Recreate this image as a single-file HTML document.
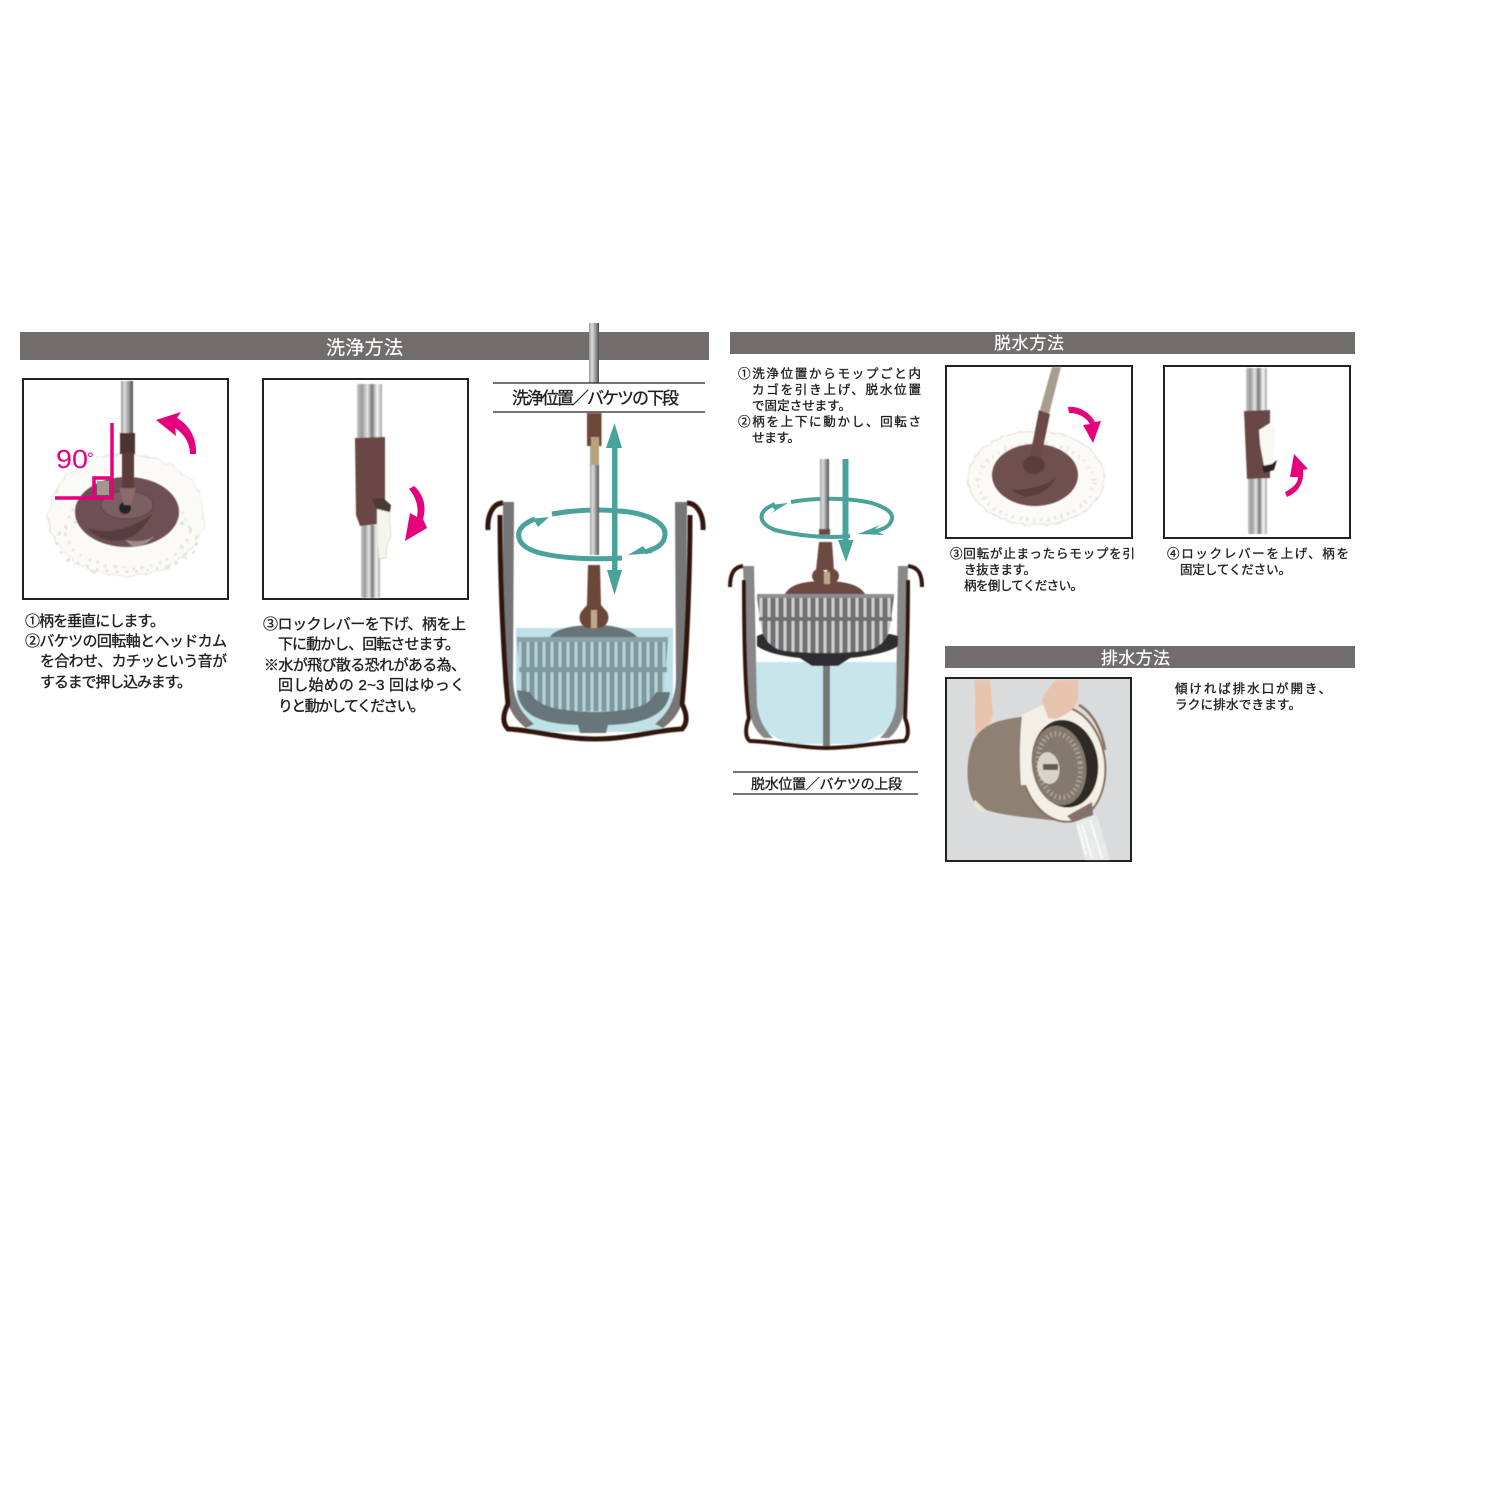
<!DOCTYPE html>
<html><head><meta charset="utf-8"><style>
html,body{margin:0;padding:0;background:#fff}
svg{display:block}
text{font-family:"Liberation Sans","Noto Sans CJK JP",sans-serif;fill:#1f1f1f;stroke:#1f1f1f;stroke-width:.35}
.w{fill:#fff;stroke:#fff;stroke-width:.2}
.p{fill:none;stroke:#e6007e}
.a{fill:#e6007e}
.t{fill:#4aa39b}
</style></head><body>
<svg width="1500" height="1500" viewBox="0 0 1500 1500" xmlns="http://www.w3.org/2000/svg">
<defs>
<pattern id="s1" x="516" y="0" width="8" height="10" patternUnits="userSpaceOnUse"><rect width="8" height="10" fill="#7d989e"/><rect x="2.500" width="3" height="10" fill="#b9d4d9"/></pattern>
<pattern id="s2" x="757" y="0" width="8" height="10" patternUnits="userSpaceOnUse"><rect width="8" height="10" fill="#6f7073"/><rect x="2.500" width="3" height="10" fill="#cfcfcf"/></pattern>
<filter id="b"><feGaussianBlur stdDeviation=".5"/></filter>
<filter id="fluff" x="-10%" y="-10%" width="120%" height="120%"><feTurbulence type="fractalNoise" baseFrequency=".09" numOctaves="2" seed="4"/><feDisplacementMap in="SourceGraphic" scale="9" xChannelSelector="R" yChannelSelector="G"/><feGaussianBlur stdDeviation=".5"/></filter>
<filter id="fluff2" x="-10%" y="-10%" width="120%" height="120%"><feTurbulence type="fractalNoise" baseFrequency=".14" numOctaves="2" seed="7"/><feDisplacementMap in="SourceGraphic" scale="5" xChannelSelector="R" yChannelSelector="G"/><feGaussianBlur stdDeviation=".4"/></filter>
<linearGradient id="pole" x1="0" x2="1" y1="0" y2="0"><stop offset="0" stop-color="#999"/><stop offset=".3" stop-color="#ddd"/><stop offset=".65" stop-color="#9a9a9a"/><stop offset="1" stop-color="#4c4c4c"/></linearGradient>
<linearGradient id="pole2" x1="0" x2="1" y1="0" y2="0"><stop offset="0" stop-color="#c8c8c8"/><stop offset=".2" stop-color="#999"/><stop offset=".42" stop-color="#e6e6e6"/><stop offset=".6" stop-color="#777"/><stop offset=".8" stop-color="#f6f6f6"/><stop offset="1" stop-color="#aaa"/></linearGradient>
</defs>

<!-- bars -->
<rect x="20" y="332" width="689" height="28" fill="#716d6d"/>
<rect x="730" y="332" width="625" height="22" fill="#716d6d"/>
<rect x="945" y="646" width="410" height="22" fill="#716d6d"/>
<text class="w" x="326" y="354" font-size="19" textLength="77">洗浄方法</text>
<text class="w" x="994" y="349" font-size="17" textLength="70">脱水方法</text>
<text class="w" x="1101" y="664" font-size="17" textLength="69">排水方法</text>

<!-- box 1 -->
<rect x="23" y="379" width="205" height="220" fill="#fff" stroke="#222" stroke-width="2"/>
<g filter="url(#fluff)">
<ellipse cx="126" cy="515" rx="78" ry="61" fill="#fbfaf7" stroke="#e4e2dc" stroke-width="1"/>
</g>
<g filter="url(#fluff2)">
<ellipse cx="127" cy="530" rx="62" ry="38" fill="none" stroke="#e6e4de" stroke-width="3" stroke-dasharray="3 6"/>
<ellipse cx="127" cy="542" rx="70" ry="30" fill="none" stroke="#e0ded8" stroke-width="2.500" stroke-dasharray="3 7"/>
</g>
<g filter="url(#b)">
<ellipse cx="127" cy="512" rx="52" ry="35" fill="#6e4f52"/>
<ellipse cx="127" cy="505" rx="26" ry="14" fill="#7c5f62" stroke="#5f4346" stroke-width="1"/>
<path d="M88 528Q118 538 152 514Q138 540 115 541Q97 540 88 528Z" fill="#583c3f"/>
<path d="M125 540Q145 544 155 535Q145 548 132 546Z" fill="#a08c8c"/>
<circle cx="125" cy="508" r="6" fill="#232323"/>
<rect x="121" y="381" width="12" height="53" fill="url(#pole)"/>
<rect x="120" y="433" width="15" height="21" fill="#4d3030"/>
<rect x="122" y="453" width="12" height="40" fill="#5b3a3a"/>
<path d="M119 488H136L131 505H124Z" fill="#8a6b6b"/>
</g>
<path class="p" stroke-width="3.500" d="M112 423V498H55M94 498V478H111"/>
<rect x="97" y="481" width="12" height="14" fill="#a2968d"/>
<text x="56" y="468" font-size="26" lengthAdjust="spacingAndGlyphs" style="fill:#e6007e;stroke:none" textLength="32">90</text>
<text x="87" y="464" font-size="17" style="fill:#e6007e;stroke:none">°</text>
<path class="a" d="M156 420L181 412L177 418C188 424 197 437 196 454H190C190 442 183 433 175 428L176 436Z"/>

<!-- box 2 -->
<rect x="263" y="379" width="205" height="220" fill="#fff" stroke="#222" stroke-width="2"/>
<g filter="url(#b)">
<rect x="357" y="384" width="25" height="54" fill="url(#pole2)"/>
<rect x="361" y="525" width="19" height="73" fill="url(#pole2)"/>
<path d="M355 438L385 437L385 512L379 524L360 526L356 515Z" fill="#6b4646"/>
<path d="M372 499L383 498L391 505L390 512L377 510Z" fill="#4a3a30"/>
<path d="M377 509L389 512L391 535L387 546L386 558L379 559L377 540Z" fill="#f6f4ee" stroke="#c4bfb3" stroke-width=".5"/>
</g>
<path class="a" d="M409 489L414 486C423 494 427 506 423 519L427 528L405 541L410 513L417 517C419 507 416 497 409 489Z"/>

<!-- left texts -->
<g font-size="15">
<text x="25" y="626" textLength="140">①柄を垂直にします。</text>
<text x="25" y="646" textLength="202">②バケツの回転軸とヘッドカム</text>
<text x="40" y="666" textLength="187">を合わせ、カチッという音が</text>
<text x="40" y="687" textLength="152">するまで押し込みます。</text>
<text x="263" y="629" textLength="203">③ロックレバーを下げ、柄を上</text>
<text x="278" y="649" textLength="182">下に動かし、回転させます。</text>
<text x="264" y="670" textLength="202">※水が飛び散る恐れがある為、</text>
<text x="278" y="690" textLength="187">回し始めの 2~3 回はゆっく</text>
<text x="278" y="711" textLength="147">りと動かしてください。</text>
</g>

<!-- center diagram -->
<g fill="none" stroke="#4aa39b" stroke-width="5">
<path d="M552 514C580 509 605 509 629 512C655 516 666 526 665 535C664 544 658 548 645 552"/>
</g>
<rect x="589" y="323" width="10" height="60" fill="url(#pole)"/>
<path d="M493 383H705M493 412H705" stroke="#222" stroke-width="1.300"/>
<text x="512" y="404" font-size="17" textLength="167">洗浄位置／バケツの下段</text>
<g filter="url(#b)">
<path d="M516 628H673V700L660 732H530L516 700Z" fill="#bfe1e7"/>
<path d="M503 502H514L513 680C514 700 520 712 534 724L526 728C510 716 505 700 503 680Z" fill="#767676"/>
<path d="M687 502H675L676 680C675 700 669 712 655 724L663 728C680 716 685 700 686 680Z" fill="#767676"/>
<path d="M550 637C555 628 575 625 596 625C615 625 632 630 637 637Z" fill="#687576"/>
<path d="M517 640H668L664 690C660 700 650 706 640 709C620 712 565 712 545 709C535 706 524 700 521 690Z" fill="url(#s1)"/>
<rect x="519" y="667" width="148" height="5" fill="#7d989e"/>
<rect x="517" y="637" width="151" height="5" fill="#8ba2a7"/>
<path d="M517 690L530 692C536 704 550 711 595 712C640 711 650 704 656 692L670 692C668 712 650 724 608 725L606 733H580L578 725C535 724 519 712 517 690Z" fill="#66767a"/>
<path d="M588 565H600L601 605L607 612C611 620 606 628 598 628H590C582 628 577 620 581 612L587 605Z" fill="#6a4638"/>
<rect x="591" y="610" width="6" height="18" fill="#bda988"/>
<rect x="590" y="445" width="9" height="110" fill="url(#pole)"/>
<rect x="587" y="413" width="14.500" height="33" fill="#6b4638"/>
<rect x="591" y="437" width="8" height="28" fill="#b8a27c"/>
<path d="M488 530C487 515 493 503 503 503M500 515C500 560 502 640 508 704C502 716 503 724 508 729C535 730 560 739 595 739C630 739 655 730 682 729C687 724 688 716 682 704C688 640 690 560 690 515M703 530C704 515 697 503 687 503" fill="none" stroke="#33190e" stroke-width="5"/>
</g>
<g fill="none" stroke="#4aa39b" stroke-width="5">
<path d="M622 558C590 560 560 558 540 553C525 549 517 542 519 532C521 526 527 522 535 519"/>
</g>
<path class="t" d="M549 517L530 519L535 522L538 527Z"/>
<path class="t" d="M628 555L653 553L646 550L643 546Z"/>
<path class="t" d="M612 448H606L614.500 423L622 448H617.500V570H622L614.500 595L607 570H612Z"/>

<!-- right diagram -->
<g font-size="12.500">
<text x="738" y="378" textLength="183">①洗浄位置からモップごと内</text>
<text x="752" y="394" textLength="169">カゴを引き上げ、脱水位置</text>
<text x="752" y="410" textLength="99">で固定させます。</text>
<text x="738" y="426" textLength="183">②柄を上下に動かし、回転さ</text>
<text x="752" y="442" textLength="48">せます。</text>
</g>
<g fill="none" stroke="#4aa39b" stroke-width="4">
<path d="M791 502C820 497 855 498 875 504C888 509 893 513 892 519C890 526 885 529 872 532"/>
</g>
<g filter="url(#b)">
<path d="M755 662H897V710C897 725 885 735 860 744H790C768 735 755 725 755 710Z" fill="#c8e5ec"/>
<rect x="823" y="664" width="7" height="84" fill="#777"/>
<path d="M743 566H754L757 705C759 720 765 730 773 738L764 738C752 728 749 715 748 700Z" fill="#888"/>
<path d="M908 566H898L896 705C894 720 888 730 880 738L889 738C901 728 904 715 905 700Z" fill="#888"/>
<path d="M757 636L762 634L890 634L898 636L898 646C890 652 870 656 850 658L838 666H812L800 658C780 656 765 652 757 646Z" fill="#2f2f33"/>
<path d="M757 597H894L890 627C888 640 880 646 870 650C850 654 800 654 780 650C770 646 764 640 761 627Z" fill="url(#s2)"/>
<rect x="759" y="617" width="133" height="4" fill="#6f7073"/>
<rect x="757" y="594" width="137" height="4" fill="#8e8e90"/>
<path d="M785 594C790 584 805 581 825 581C845 581 860 585 865 594Z" fill="#6d4a42"/>
<path d="M819 542H832L834 570H816Z" fill="#6d4a42"/>
<circle cx="819" cy="576" r="7" fill="#6d4a42"/><circle cx="832" cy="576" r="7" fill="#6d4a42"/>
<rect x="824" y="572" width="6" height="12" fill="#bfa88a"/>
<rect x="820" y="459" width="9" height="70" fill="url(#pole)"/>
<rect x="819" y="529" width="11" height="6" fill="#6d4a42"/>
<path d="M730 587C730 572 735 567 743 566M744 580C744 640 745 690 749 718C745 728 745 738 750 741C780 742 800 748 826 748C855 748 880 742 904 741C909 738 909 728 905 718C906 690 908 640 908 580M922 587C922 572 917 567 908 566" fill="none" stroke="#33190e" stroke-width="4"/>
</g>
<g fill="none" stroke="#4aa39b" stroke-width="4">
<path d="M850 536C825 539 795 535 775 530C765 526 760 521 762 514C764 509 770 506 775 504"/>
</g>
<path class="t" d="M788 503L770 505L775 510L770 514Z"/>
<path class="t" d="M858 534L884 535L874 530L880 525Z"/>
<path class="t" d="M842.500 459H848.500V540H853.500L846 562L838 540H842.500Z"/>
<path d="M733 772H918M733 794H918" stroke="#222" stroke-width="1.200"/>
<text x="751" y="789" font-size="14" textLength="151">脱水位置／バケツの上段</text>

<!-- box 3 -->
<rect x="946" y="366" width="186" height="172" fill="#fff" stroke="#222" stroke-width="2"/>
<g filter="url(#fluff2)">
<ellipse cx="1036" cy="478" rx="68" ry="47" fill="#fbfaf7" stroke="#dedcd6" stroke-width="1"/>
<ellipse cx="1036" cy="482" rx="58" ry="38" fill="none" stroke="#e6e4de" stroke-width="4" stroke-dasharray="2 5"/>
</g>
<g filter="url(#b)">
<ellipse cx="1035" cy="475" rx="43" ry="31" fill="#6f4f50"/>
<path d="M1010 490Q1040 490 1055 478Q1048 495 1025 497Z" fill="#5a3d3d"/>
<path d="M1052 367H1061L1049 414L1040 410Z" fill="#a99e8c"/>
<path d="M1039 410L1050 414L1040 462H1029Z" fill="#6a4a46"/>
<ellipse cx="1034" cy="465" rx="11" ry="9" fill="#5a3d3d"/>
</g>
<path class="a" d="M1068 407C1080 406 1090 413 1095 422L1101 421L1093 443L1083 425L1090 424C1086 417 1078 413 1069 413Z"/>

<!-- box 4 -->
<rect x="1164" y="366" width="186" height="172" fill="#fff" stroke="#222" stroke-width="2"/>
<g filter="url(#b)">
<rect x="1246" y="368" width="21" height="43" fill="url(#pole2)"/>
<rect x="1248" y="478" width="19" height="56" fill="url(#pole2)"/>
<path d="M1244 411L1270 410L1270 478L1247 479Z" fill="#6b4646"/>
<path d="M1259 430L1270 423L1275 426L1275 440L1272 466L1264 466L1260 444Z" fill="#f9f8f3"/>
<path d="M1262 466L1272 464L1277 460L1274 470L1264 473Z" fill="#2c2420"/>
</g>
<path class="a" d="M1285 492C1293 488 1298 483 1298 477L1290 477L1294 454L1308 469L1303 470C1304 484 1298 492 1287 497Z"/>

<g font-size="12.500">
<text x="950" y="558" textLength="185">③回転が止まったらモップを引</text>
<text x="964" y="574" textLength="72">き抜きます。</text>
<text x="964" y="590" textLength="119">柄を倒してください。</text>
<text x="1167" y="558" textLength="182">④ロックレバーを上げ、柄を</text>
<text x="1180" y="574" textLength="111">固定してください。</text>
<text x="1175" y="693" textLength="156">傾ければ排水口が開き、</text>
<text x="1175" y="709" textLength="126">ラクに排水できます。</text>
</g>

<!-- photo -->
<rect x="946" y="678" width="185" height="183" fill="#dadbdc" stroke="#222" stroke-width="2"/>
<g filter="url(#b)">
<path d="M974 680H990L992 705C996 718 985 732 977 736C973 725 977 700 974 680Z" fill="#e8c4ae"/>
<path d="M1033 716C1005 718 985 722 975 738C965 755 965 790 975 803C985 815 1020 816 1067 822C1035 790 1025 750 1033 716Z" fill="#8e8073"/>
<path d="M975 800L988 812L983 812C976 810 971 806 975 800Z" fill="#e8e2d2"/>
<g transform="rotate(-8 1063 764)">
<ellipse cx="1063" cy="764" rx="42" ry="58" fill="#f4efe6" stroke="#83705f" stroke-width="2"/>
<ellipse cx="1065" cy="764" rx="33" ry="44" fill="#2f2b28"/>
<ellipse cx="1059" cy="765" rx="27" ry="40" fill="#85796d"/>
<ellipse cx="1059" cy="765" rx="21" ry="32" fill="none" stroke="#b0a79a" stroke-width="5" stroke-dasharray="1.500 3"/>
<ellipse cx="1048" cy="766" rx="11" ry="16" fill="#d8d4cc"/>
</g>
<path d="M1022 715L1042 705L1050 712L1034 722C1028 745 1030 770 1028 785L1021 785C1019 760 1020 735 1022 715Z" fill="#f4efe6"/>
<path d="M1043 764H1058V770H1043Z" fill="#665a4f"/>
<path d="M1079 705C1092 712 1102 730 1105 750" fill="none" stroke="#8b7565" stroke-width="2.500"/>
<path d="M1042 700C1048 688 1052 684 1056 680H1078L1078 697C1078 708 1065 716 1055 719L1048 718Z" fill="#e8c4ae"/>
<path d="M1067 816L1092 802L1093 815L1073 822Z" fill="#86706a"/>
<path d="M1075 822L1097 815L1110 860H1085Z" fill="#f2f5f6" opacity=".55"/>
<path d="M1082 825L1092 858M1090 820L1102 858M1078 825L1086 855" stroke="#fff" stroke-width="2" fill="none" opacity=".8"/>
</g>
</svg>
</body></html>
